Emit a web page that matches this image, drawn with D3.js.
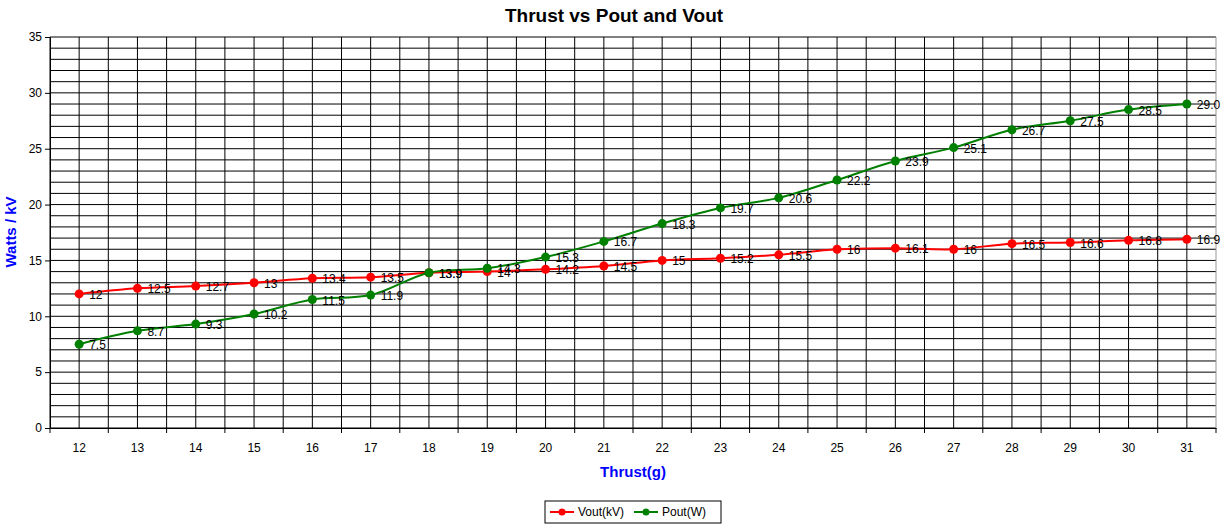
<!DOCTYPE html><html><head><meta charset="utf-8">
<script src="https://cdn.jsdelivr.net/npm/d3@7"></script>
<style>body{margin:0;background:#fff}svg{font-family:"Liberation Sans",Arial,sans-serif}</style></head><body>
<svg id="c" width="1228" height="526"></svg>
<script>
const categories=[12,13,14,15,16,17,18,19,20,21,22,23,24,25,26,27,28,29,30,31];
const vout=[12,12.5,12.7,13,13.4,13.5,13.9,14,14.2,14.5,15,15.2,15.5,16,16.1,16,16.5,16.6,16.8,16.9];
const pout=[7.5,8.7,9.3,10.2,11.5,11.9,13.9,14.3,15.3,16.7,18.3,19.7,20.6,22.2,23.9,25.1,26.7,27.5,28.5,29.0];
const poutLabels=["7.5","8.7","9.3","10.2","11.5","11.9","13.9","14.3","15.3","16.7","18.3","19.7","20.6","22.2","23.9","25.1","26.7","27.5","28.5","29.0"];
const yTicks=[0,5,10,15,20,25,30,35];
const svg=d3.select("#c");
const L=50,R=1216,T=37,B=428;
const x=d3.scaleBand().domain(categories).range([L,R]);
const y=d3.scaleLinear().domain([0,35]).range([B,T]);
const g=svg.append("g");
g.selectAll(".h").data(d3.range(0,36)).join("line").attr("x1",L).attr("x2",R).attr("y1",d=>y(d)).attr("y2",d=>y(d)).attr("stroke","#000").attr("stroke-width",1);
const vx=[];categories.forEach(c=>{vx.push(x(c));vx.push(x(c)+x.bandwidth()/2);});vx.push(R);
g.selectAll(".v").data(vx).join("line").attr("x1",d=>d).attr("x2",d=>d).attr("y1",T).attr("y2",B).attr("stroke",(d,i)=>i===vx.length-1?"#999":"#000").attr("stroke-width",1);
const ya=svg.append("g").attr("transform",`translate(${L},0)`).call(d3.axisLeft(y).tickValues(yTicks).tickSize(5).tickSizeOuter(0));
const xa=svg.append("g").attr("transform",`translate(0,${B})`).call(d3.axisBottom(x).tickSize(0));
[ya,xa].forEach(a=>{a.selectAll("text").attr("font-size",12).attr("fill","#000").attr("font-family","Liberation Sans, Arial");a.select(".domain").attr("stroke","#000");});
xa.selectAll("text").attr("dy","1.75em");
xa.selectAll(".bt").data(categories.concat(["end"])).join("line").attr("x1",(d,i)=>i<categories.length?x(d):R).attr("x2",(d,i)=>i<categories.length?x(d):R).attr("y1",0).attr("y2",5).attr("stroke","#000");
const cx=d=>x(d)+x.bandwidth()/2;
function series(vals,col,labels){
  const line=d3.line().x((d,i)=>cx(categories[i])).y(d=>y(d)).curve(d3.curveCatmullRom.alpha(0.5));
  svg.append("path").attr("d",line(vals)).attr("fill","none").attr("stroke",col).attr("stroke-width",2);
  svg.append("g").selectAll("circle").data(vals).join("circle").attr("cx",(d,i)=>cx(categories[i])).attr("cy",d=>y(d)).attr("r",4.5).attr("fill",col);
  svg.append("g").selectAll("text").data(vals).join("text").attr("x",(d,i)=>cx(categories[i])+10).attr("y",d=>y(d)+5).attr("font-size",12).text((d,i)=>labels?labels[i]:d);
}
series(vout,"#ff0000");
series(pout,"#008000",poutLabels);
svg.append("text").attr("x",614).attr("y",22).attr("text-anchor","middle").attr("font-size",19).attr("font-weight","bold").text("Thrust vs Pout and Vout");
svg.append("text").attr("x",633).attr("y",477).attr("text-anchor","middle").attr("font-size",15).attr("font-weight","bold").attr("fill","#0000ff").text("Thrust(g)");
svg.append("text").attr("transform","translate(16,232) rotate(-90)").attr("text-anchor","middle").attr("font-size",15).attr("font-weight","bold").attr("fill","#0000ff").text("Watts / kV");
const lg=svg.append("g");
lg.append("rect").attr("x",545).attr("y",501).attr("width",176).attr("height",22).attr("fill","#fff").attr("stroke","#000");
[["Vout(kV)","#ff0000",550],["Pout(W)","#008000",634]].forEach(([t,c,x0])=>{
  lg.append("line").attr("x1",x0).attr("x2",x0+24).attr("y1",512).attr("y2",512).attr("stroke",c).attr("stroke-width",2);
  lg.append("circle").attr("cx",x0+12).attr("cy",512).attr("r",3.5).attr("fill",c);
  lg.append("text").attr("x",x0+28).attr("y",516).attr("font-size",12).text(t);
});
</script></body></html>
